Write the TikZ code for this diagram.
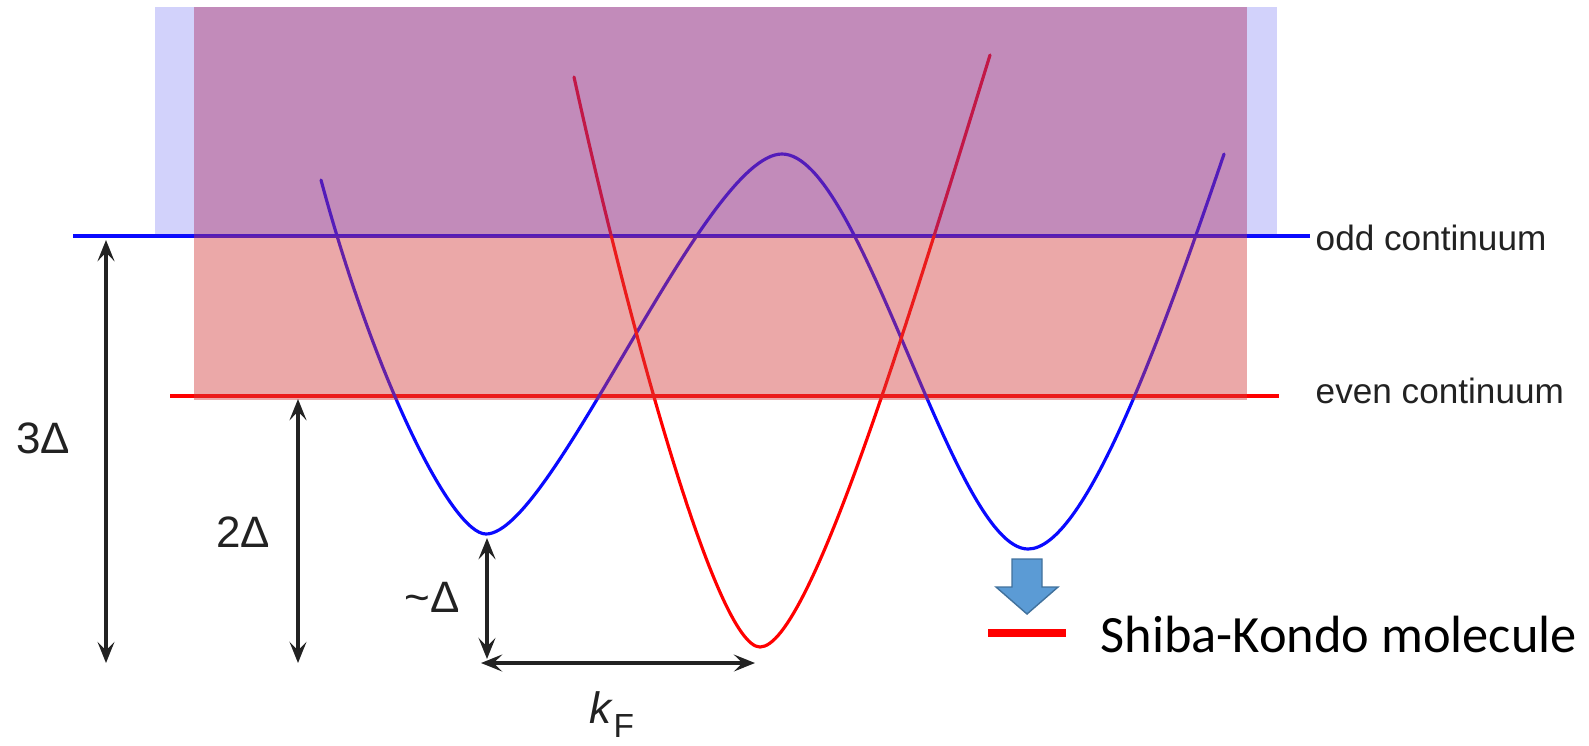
\documentclass[tikz,border=0pt]{standalone}
\usepackage{fontspec}
\setmainfont{Liberation Sans}
\newfontfamily\calibrifont{Carlito}
\usetikzlibrary{arrows.meta}
\definecolor{lav}{RGB}{30,30,235}
\definecolor{purp}{RGB}{144,44,130}
\definecolor{pinkc}{RGB}{211,62,62}
\definecolor{bl}{RGB}{10,10,255}
\definecolor{rd}{RGB}{255,0,0}
\definecolor{arrfill}{RGB}{91,155,213}
\definecolor{arrdraw}{RGB}{65,113,156}
\definecolor{txt}{RGB}{34,34,34}
\begin{document}
\begin{tikzpicture}[x=0.01cm,y=-0.01cm,
  level/.style={line width=1.25pt},
  curve/.style={line width=0.9pt, line join=round, line cap=round},
  dimarrow/.style={draw=txt, line width=0.95pt,
    {Stealth[length=6pt,width=4.8pt,inset=2.4pt]}-{Stealth[length=6pt,width=4.8pt,inset=2.4pt]}},
  lbl/.style={text=txt, font=\fontsize{12.5}{15}\selectfont, inner sep=0pt, anchor=base},
  contlbl/.style={text=txt, font=\fontsize{10}{12}\selectfont, inner sep=0pt, anchor=base west}
]
\useasboundingbox (0,0) rectangle (1589,745);

% level lines
\draw[level, bl] (73,236) -- (1310,236);
\draw[level, rd] (170,396) -- (1279,396);

% bands
\draw[curve, bl] (321,180) .. controls (375,380) and (452,534) .. (486,534)
  .. controls (552,534) and (705,154) .. (782,154)
  .. controls (862,154) and (953,549) .. (1028,549)
  .. controls (1083,549) and (1156,354) .. (1224,154);
\draw[curve, rd] (574,77) .. controls (627,318) and (716,647) .. (760,647)
  .. controls (810,647) and (913,305) .. (990,55);

% translucent continua
\fill[lav, fill opacity=0.2] (155,7) rectangle (194,236);
\fill[lav, fill opacity=0.2] (1247,7) rectangle (1277,236);
\fill[purp, fill opacity=0.55] (194,7) rectangle (1247,236);
\fill[pinkc, fill opacity=0.45] (194,236) rectangle (1247,400);

% dimension arrows
\coordinate (a3top) at (106,240);
\coordinate (a3bot) at (106,663);
\coordinate (a2top) at (298,399);
\coordinate (a2bot) at (298,663);
\coordinate (a1top) at (487,538);
\coordinate (a1bot) at (487,659);
\coordinate (kleft) at (481,663);
\coordinate (kright) at (755,663);
\draw[dimarrow] (a3top) -- (a3bot);
\draw[dimarrow] (a2top) -- (a2bot);
\draw[dimarrow] (a1top) -- (a1bot);
\draw[dimarrow] (kleft) -- (kright);

% labels
\node[lbl] (l3) at (43,453) {3Δ};
\node[lbl] (l2) at (243,547) {2Δ};
\node[lbl] (l1) at (432,612) {\textasciitilde Δ};
\node[text=txt, font=\fontsize{12.5}{15}\selectfont, inner sep=0pt, anchor=base west] (lk) at (589,723) {\textit{k}\raisebox{-0.32em}{\fontsize{9.5}{11}\selectfont F}};
\node[contlbl] (lodd) at (1315,250) {odd continuum};
\node[contlbl] (leven) at (1315,403) {even continuum};

% Shiba-Kondo legend
\fill[arrfill, draw=arrdraw, line width=0.4pt, line join=miter]
  (1012,559) -- (1042,559) -- (1042,587) -- (1058,587) -- (1027,614)
  -- (996,587) -- (1012,587) -- cycle;
\fill[rd] (988,629) rectangle (1066,637);
\node[font=\calibrifont\fontsize{14.9}{17}\selectfont, inner sep=0pt, anchor=base west] (lshiba) at (1100,652) {Shiba-Kondo molecule};
\end{tikzpicture}
\end{document}
